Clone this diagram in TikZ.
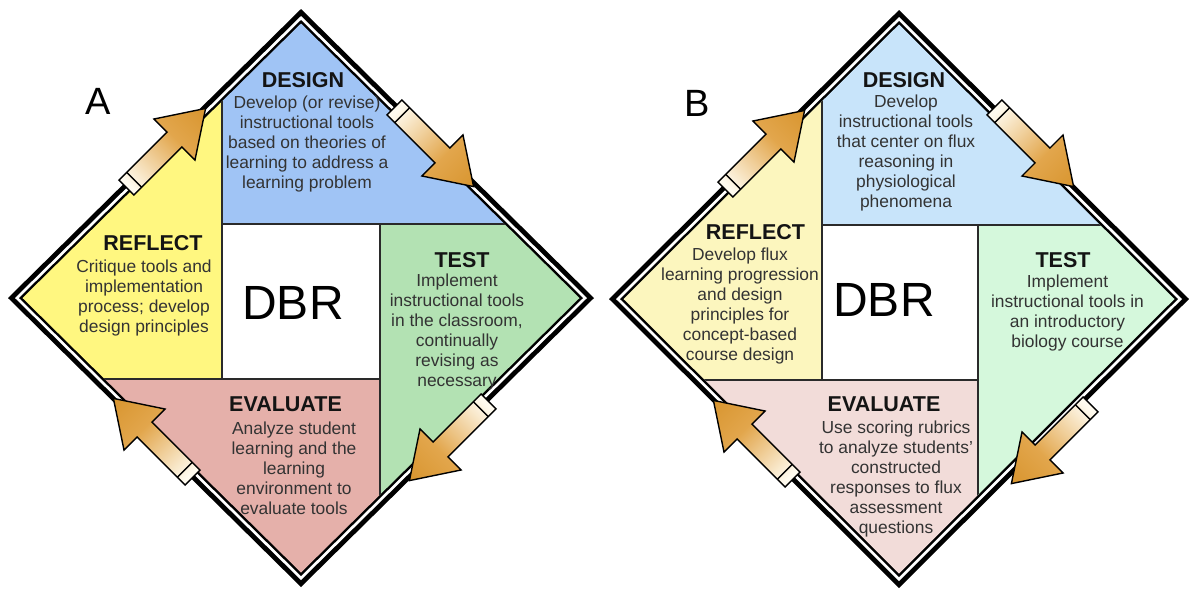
\documentclass[tikz,border=0pt]{standalone}
\usepackage{fontspec}
\setmainfont{Liberation Sans}

\definecolor{designblueA}{HTML}{A0C4F5}
\definecolor{reflectyellowA}{HTML}{FFF780}
\definecolor{testgreenA}{HTML}{B3E2B3}
\definecolor{evalpinkA}{HTML}{E5B0AA}
\definecolor{designblueB}{HTML}{C8E4FA}
\definecolor{reflectyellowB}{HTML}{FCF6BE}
\definecolor{testgreenB}{HTML}{D5F8DC}
\definecolor{evalpinkB}{HTML}{F2DCD9}
\definecolor{headgray}{HTML}{141414}
\definecolor{textgray}{HTML}{333333}
\definecolor{linegray}{HTML}{2A2A2A}
\definecolor{tailcream}{HTML}{FFFBEF}
\definecolor{arrowgold}{HTML}{E2A64C}
\definecolor{arrowgoldD}{HTML}{D8952F}

\pgfdeclarehorizontalshading{cycleshade}{100bp}{color(0bp)=(tailcream); color(27bp)=(tailcream); color(56bp)=(arrowgold); color(75bp)=(arrowgoldD); color(100bp)=(arrowgoldD)}

\tikzset{
  heading/.style={font=\fontsize{10.75}{12}\selectfont\bfseries, text=headgray, inner sep=0pt},
  blurb/.style={font=\fontsize{8.7}{10}\selectfont, text=textgray, align=center, inner sep=0pt},
  dbrlabel/.style={font=\fontsize{24}{27}\selectfont, inner sep=0pt},
  panel/.style={font=\fontsize{19}{22}\selectfont, inner sep=0pt},
  divider/.style={draw=linegray, line width=0.8pt},
  cycle arrow/.style={draw=black, line width=0.7pt, shade, shading=cycleshade},
}

% block arrow on the frame: centre x, centre y, angle
\newcommand{\cyclearrow}[3]{%
  \begin{scope}[transform canvas={shift={(#1,#2)}, rotate=#3}]
    \path[cycle arrow] (-56,-10.5) -- (12,-10.5) -- (12,-29) -- (56,0) -- (12,29) -- (12,10.5) -- (-56,10.5) -- cycle;
    \draw[line width=0.7pt] (-45,-10.5) -- (-45,10.5);
  \end{scope}}

\begin{document}
\begin{tikzpicture}[x=0.5pt, y=-0.5pt]
    \useasboundingbox (0,0) rectangle (1189,591);

    % ---- diagram A ----
    \begin{scope}[shift={(301,298)}]
        \fill[black] (-293,0) -- (0,-289) -- (293,0) -- (0,289) -- cycle;
        \fill[white] (-286,0) -- (0,-282) -- (286,0) -- (0,282) -- cycle;
        \fill[black] (-282,0) -- (0,-278) -- (282,0) -- (0,278) -- cycle;
        \begin{scope}
            \clip (-278.5,0) -- (0,-274.5) -- (278.5,0) -- (0,274.5) -- cycle;
            \fill[designblueA] (-79,-300) rectangle (300,-74);
            \fill[testgreenA] (79,-74) rectangle (300,300);
            \fill[evalpinkA] (-300,81) rectangle (79,300);
            \fill[reflectyellowA] (-300,-300) rectangle (-79,81);
            \fill[white] (-79,-74) rectangle (79,81);
            \draw[divider] (-79,-300) -- (-79,81) (-79,-74) -- (300,-74) (79,-74) -- (79,300) (-300,81) -- (79,81);
        \end{scope}

        \node[dbrlabel] (dbrA) at (-8,5) {DBR};

        \node[heading] (designA) at (2,-218) {DESIGN};
        \node[blurb, below of=designA, node distance=32pt, xshift=2pt] (designAtext) {Develop (or revise)\\instructional tools\\based on theories of\\learning to address a\\learning problem};

        \node[heading] (testA) at (161,-38) {TEST};
        \node[blurb, below of=testA, node distance=36pt, xshift=-2.5pt] (testAtext) {Implement\\instructional tools\\in the classroom,\\continually\\revising as\\necessary};

        \node[heading] (evalA) at (-15.5,106) {EVALUATE};
        \node[blurb, below of=evalA, node distance=32pt, xshift=4.25pt] (evalAtext) {Analyze student\\learning and the\\learning\\environment to\\evaluate tools};

        \node[heading] (reflectA) at (-148,-55) {REFLECT};
        \node[blurb, below of=reflectA, node distance=27.25pt, xshift=-4.5pt] (reflectAtext) {Critique tools and\\implementation\\process; develop\\design principles};
    \end{scope}

    % ---- diagram B ----
    \begin{scope}[shift={(899,299)}]
        \fill[black] (-290,0) -- (0,-289) -- (290,0) -- (0,289) -- cycle;
        \fill[white] (-283,0) -- (0,-282) -- (283,0) -- (0,282) -- cycle;
        \fill[black] (-279,0) -- (0,-278) -- (279,0) -- (0,278) -- cycle;
        \begin{scope}
            \clip (-275.5,0) -- (0,-274.5) -- (275.5,0) -- (0,274.5) -- cycle;
            \fill[designblueB] (-77,-300) rectangle (300,-74);
            \fill[testgreenB] (79,-74) rectangle (300,300);
            \fill[evalpinkB] (-300,81) rectangle (79,300);
            \fill[reflectyellowB] (-300,-300) rectangle (-77,81);
            \fill[white] (-77,-74) rectangle (79,81);
            \draw[divider] (-77,-300) -- (-77,81) (-77,-74) -- (300,-74) (79,-74) -- (79,300) (-300,81) -- (79,81);
        \end{scope}

        \node[dbrlabel] (dbrB) at (-15,1) {DBR};

        \node[heading] (designB) at (5,-219) {DESIGN};
        \node[blurb, below of=designB, node distance=36.25pt, xshift=1pt] (designBtext) {Develop\\instructional tools\\that center on flux\\reasoning in\\physiological\\phenomena};

        \node[heading] (testB) at (164,-39) {TEST};
        \node[blurb, below of=testB, node distance=26.5pt, xshift=2.25pt] (testBtext) {Implement\\instructional tools in\\an introductory\\biology course};

        \node[heading] (evalB) at (-15,105) {EVALUATE};
        \node[blurb, below of=evalB, node distance=37.5pt, xshift=6pt] (evalBtext) {Use scoring rubrics\\to analyze students'\\constructed\\responses to flux\\assessment\\questions};

        \node[heading] (reflectB) at (-143.5,-67) {REFLECT};
        \node[blurb, below of=reflectB, node distance=37pt, xshift=-7.75pt] (reflectBtext) {Develop flux\\learning progression\\and design\\principles for\\concept-based\\course design};
    \end{scope}

    \node[panel] (panelA) at (98,101) {A};
    \node[panel] (panelB) at (697,103) {B};

    % cycle arrows on the frames
    \cyclearrow{166}{148}{45}
    \cyclearrow{434}{147}{-45}
    \cyclearrow{449}{441}{-135}
    \cyclearrow{153}{438}{135}

    \cyclearrow{765}{150}{45}
    \cyclearrow{1034}{147}{-45}
    \cyclearrow{1051}{444}{-135}
    \cyclearrow{753}{440}{135}
\end{tikzpicture}
\end{document}
